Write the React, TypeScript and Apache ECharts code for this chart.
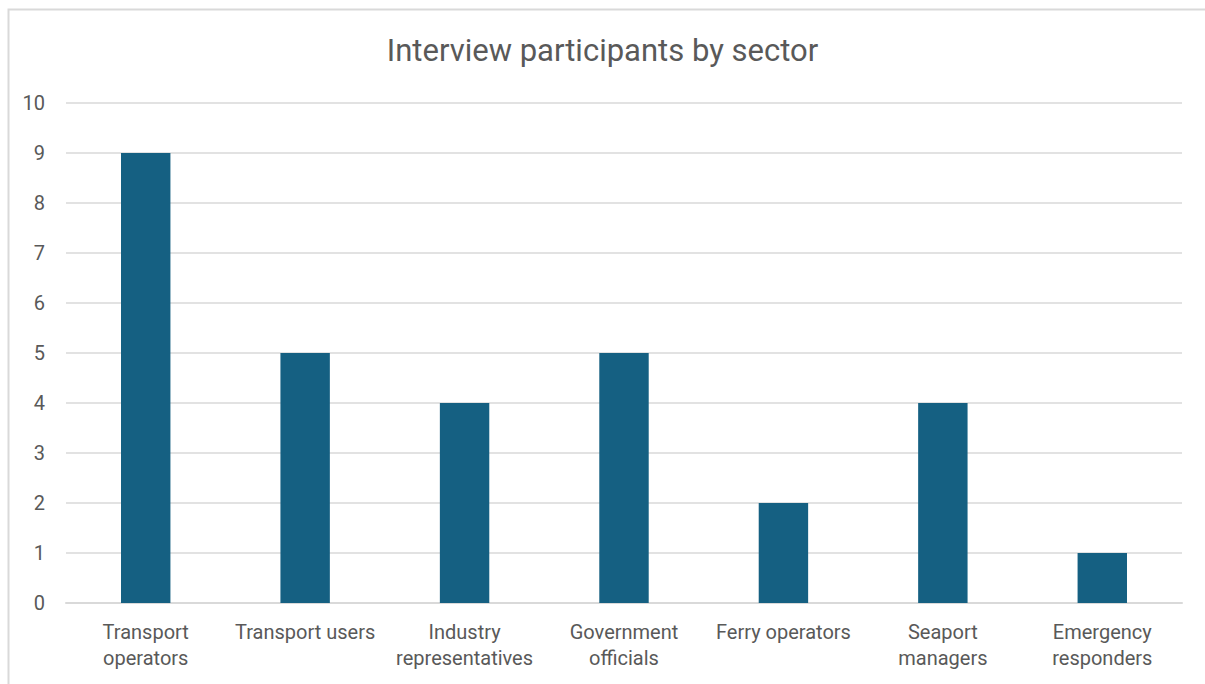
import React, { useEffect, useRef } from "react";
import * as echarts from "echarts";

const categories = [
  "Transport\noperators",
  "Transport users",
  "Industry\nrepresentatives",
  "Government\nofficials",
  "Ferry operators",
  "Seaport\nmanagers",
  "Emergency\nresponders",
];
const participants = [9, 5, 4, 5, 2, 4, 1];
const yTicks = { min: 0, max: 10, interval: 1 };

export default function App() {
  const ref = useRef<HTMLDivElement>(null);
  useEffect(() => {
    if (!ref.current) return;
    const chart = echarts.init(ref.current, undefined, { renderer: "svg" });
    const font = "Roboto, 'Noto Sans', sans-serif";
    chart.setOption({
      animation: false,
      backgroundColor: "#ffffff",
      title: {
        text: "Interview participants by sector",
        left: "center",
        top: 30,
        textStyle: { fontFamily: font, fontSize: 31, fontWeight: "normal", color: "#595959" },
      },
      graphic: [
        {
          type: "rect",
          shape: { x: 8.5, y: 9.5, width: 1220, height: 700 },
          style: { fill: "none", stroke: "#d9d9d9", lineWidth: 2 },
          silent: true,
        },
      ],
      grid: { left: 66, right: 23, top: 103, bottom: 81, containLabel: false },
      xAxis: {
        type: "category",
        data: categories,
        axisLine: { show: true, lineStyle: { color: "#d9d9d9", width: 2 } },
        axisTick: { show: false },
        axisLabel: {
          color: "#595959",
          fontFamily: font,
          fontSize: 20,
          lineHeight: 26,
          margin: 16,
          interval: 0,
        },
      },
      yAxis: {
        type: "value",
        min: yTicks.min,
        max: yTicks.max,
        interval: yTicks.interval,
        axisLine: { show: false },
        axisTick: { show: false },
        splitLine: { lineStyle: { color: "#d9d9d9", width: 1.5 } },
        axisLabel: { color: "#595959", fontFamily: font, fontSize: 20, margin: 21 },
      },
      series: [
        {
          type: "bar",
          data: participants,
          barWidth: "31%",
          itemStyle: { color: "#156082" },
        },
      ],
    });
    return () => chart.dispose();
  }, []);
  return (
    <div
      ref={ref}
      style={{ position: "absolute", left: 0, top: 0, width: 1205, height: 684 }}
    />
  );
}
